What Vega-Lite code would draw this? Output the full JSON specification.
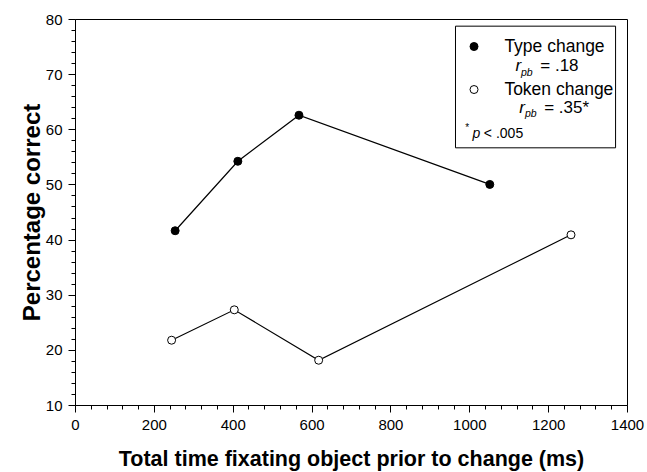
{
  "$schema": "https://vega.github.io/schema/vega-lite/v6.json",
  "width": 552,
  "height": 386,
  "autosize": {"type": "none"},
  "padding": {"left": 75, "top": 19, "right": 20, "bottom": 67},
  "background": "white",
  "datasets": {
    "points": [
      {"series": "Type change", "time": 254, "pct": 41.6},
      {"series": "Type change", "time": 413, "pct": 54.2},
      {"series": "Type change", "time": 568, "pct": 62.55},
      {"series": "Type change", "time": 1052, "pct": 50.0},
      {"series": "Token change", "time": 245, "pct": 21.75},
      {"series": "Token change", "time": 404, "pct": 27.26},
      {"series": "Token change", "time": 618, "pct": 18.12},
      {"series": "Token change", "time": 1258, "pct": 40.86}
    ]
  },
  "config": {
    "view": {"stroke": "black", "strokeWidth": 1},
    "axis": {
      "grid": false,
      "labelFont": "Liberation Sans",
      "titleFont": "Liberation Sans",
      "labelColor": "black",
      "titleColor": "black",
      "tickColor": "black",
      "domainColor": "black",
      "labelFlush": false,
      "labelOverlap": false
    }
  },
  "layer": [
    {
      "data": {"name": "points"},
      "mark": {"type": "line", "color": "black", "strokeWidth": 1.2},
      "encoding": {
        "x": {
          "field": "time", "type": "quantitative",
          "scale": {"domain": [0, 1400], "nice": false, "zero": false},
          "axis": {
            "orient": "bottom", "format": "d",
            "values": [0, 200, 400, 600, 800, 1000, 1200, 1400],
            "tickSize": 7, "labelPadding": 5, "labelFontSize": 15,
            "title": "Total time fixating object prior to change (ms)",
            "titleFontSize": 21.5, "titleFontWeight": "bold", "titlePadding": 16
          }
        },
        "y": {
          "field": "pct", "type": "quantitative",
          "scale": {"domain": [10, 80], "nice": false, "zero": false},
          "axis": {
            "orient": "left", "format": "d",
            "values": [10, 20, 30, 40, 50, 60, 70, 80],
            "tickSize": 7, "labelPadding": 6, "labelFontSize": 15,
            "title": "Percentage correct",
            "titleFontSize": 24, "titleFontWeight": "bold", "titlePadding": 1
          }
        },
        "detail": {"field": "series"}
      }
    },
    {
      "data": {"name": "points"},
      "mark": {"type": "point", "shape": "circle", "filled": true, "size": 64, "stroke": "black", "strokeWidth": 1, "opacity": 1},
      "encoding": {
        "x": {
          "field": "time", "type": "quantitative",
          "axis": {
            "orient": "bottom", "labels": false, "domain": false, "title": null, "tickSize": 4,
            "values": [40, 80, 120, 160, 240, 280, 320, 360, 440, 480, 520, 560, 640, 680, 720, 760, 840, 880, 920, 960, 1040, 1080, 1120, 1160, 1240, 1280, 1320, 1360]
          }
        },
        "y": {
          "field": "pct", "type": "quantitative",
          "axis": {
            "orient": "left", "labels": false, "domain": false, "title": null, "tickSize": 4,
            "values": [12, 14, 16, 18, 22, 24, 26, 28, 32, 34, 36, 38, 42, 44, 46, 48, 52, 54, 56, 58, 62, 64, 66, 68, 72, 74, 76, 78]
          }
        },
        "fill": {
          "field": "series", "type": "nominal",
          "scale": {"domain": ["Type change", "Token change"], "range": ["black", "white"]},
          "legend": null
        }
      }
    },
    {
      "data": {"values": [{}]},
      "mark": {"type": "rect", "fill": "white", "stroke": "black", "strokeWidth": 1},
      "encoding": {
        "x": {"datum": 965, "type": "quantitative", "axis": null},
        "x2": {"datum": 1371},
        "y": {"datum": 78.7, "type": "quantitative", "axis": null},
        "y2": {"datum": 56.64}
      }
    },
    {
      "data": {"values": [{}]},
      "mark": {"type": "point", "shape": "circle", "filled": true, "size": 64, "fill": "black", "stroke": "black", "strokeWidth": 1, "opacity": 1},
      "encoding": {
        "x": {"datum": 1012, "type": "quantitative", "axis": null},
        "y": {"datum": 75.01, "type": "quantitative", "axis": null}
      }
    },
    {
      "data": {"values": [{}]},
      "mark": {"type": "point", "shape": "circle", "filled": true, "size": 64, "fill": "white", "stroke": "black", "strokeWidth": 1, "opacity": 1},
      "encoding": {
        "x": {"datum": 1012, "type": "quantitative", "axis": null},
        "y": {"datum": 67.21, "type": "quantitative", "axis": null}
      }
    },
    {
      "data": {"values": [{}]},
      "mark": {"type": "text", "text": "Type change", "font": "Liberation Sans", "fontSize": 17.5, "align": "left", "baseline": "middle", "color": "black"},
      "encoding": {
        "x": {"datum": 1089, "type": "quantitative", "axis": null},
        "y": {"datum": 75.01, "type": "quantitative", "axis": null}
      }
    },
    {
      "data": {"values": [{}]},
      "mark": {"type": "text", "text": "r", "font": "Liberation Sans", "fontStyle": "italic", "fontSize": 17, "align": "left", "baseline": "alphabetic", "color": "black"},
      "encoding": {
        "x": {"datum": 1117, "type": "quantitative", "axis": null},
        "y": {"datum": 70.53, "type": "quantitative", "axis": null}
      }
    },
    {
      "data": {"values": [{}]},
      "mark": {"type": "text", "text": "pb", "font": "Liberation Sans", "fontStyle": "italic", "fontSize": 10.5, "align": "left", "baseline": "alphabetic", "color": "black"},
      "encoding": {
        "x": {"datum": 1131, "type": "quantitative", "axis": null},
        "y": {"datum": 69.75, "type": "quantitative", "axis": null}
      }
    },
    {
      "data": {"values": [{}]},
      "mark": {"type": "text", "text": "= .18", "font": "Liberation Sans", "fontSize": 17, "align": "left", "baseline": "alphabetic", "color": "black"},
      "encoding": {
        "x": {"datum": 1180, "type": "quantitative", "axis": null},
        "y": {"datum": 70.53, "type": "quantitative", "axis": null}
      }
    },
    {
      "data": {"values": [{}]},
      "mark": {"type": "text", "text": "Token change", "font": "Liberation Sans", "fontSize": 17.5, "align": "left", "baseline": "middle", "color": "black"},
      "encoding": {
        "x": {"datum": 1089, "type": "quantitative", "axis": null},
        "y": {"datum": 67.21, "type": "quantitative", "axis": null}
      }
    },
    {
      "data": {"values": [{}]},
      "mark": {"type": "text", "text": "r", "font": "Liberation Sans", "fontStyle": "italic", "fontSize": 17, "align": "left", "baseline": "alphabetic", "color": "black"},
      "encoding": {
        "x": {"datum": 1127, "type": "quantitative", "axis": null},
        "y": {"datum": 63.04, "type": "quantitative", "axis": null}
      }
    },
    {
      "data": {"values": [{}]},
      "mark": {"type": "text", "text": "pb", "font": "Liberation Sans", "fontStyle": "italic", "fontSize": 10.5, "align": "left", "baseline": "alphabetic", "color": "black"},
      "encoding": {
        "x": {"datum": 1141, "type": "quantitative", "axis": null},
        "y": {"datum": 62.23, "type": "quantitative", "axis": null}
      }
    },
    {
      "data": {"values": [{}]},
      "mark": {"type": "text", "text": "= .35*", "font": "Liberation Sans", "fontSize": 17, "align": "left", "baseline": "alphabetic", "color": "black"},
      "encoding": {
        "x": {"datum": 1190, "type": "quantitative", "axis": null},
        "y": {"datum": 63.04, "type": "quantitative", "axis": null}
      }
    },
    {
      "data": {"values": [{}]},
      "mark": {"type": "text", "text": "*", "font": "Liberation Sans", "fontSize": 10, "align": "left", "baseline": "alphabetic", "color": "black"},
      "encoding": {
        "x": {"datum": 990, "type": "quantitative", "axis": null},
        "y": {"datum": 59.6, "type": "quantitative", "axis": null}
      }
    },
    {
      "data": {"values": [{}]},
      "mark": {"type": "text", "text": "p", "font": "Liberation Sans", "fontStyle": "italic", "fontSize": 14, "align": "left", "baseline": "alphabetic", "color": "black"},
      "encoding": {
        "x": {"datum": 1008, "type": "quantitative", "axis": null},
        "y": {"datum": 58.45, "type": "quantitative", "axis": null}
      }
    },
    {
      "data": {"values": [{}]},
      "mark": {"type": "text", "text": "< .005", "font": "Liberation Sans", "fontSize": 14, "align": "left", "baseline": "alphabetic", "color": "black"},
      "encoding": {
        "x": {"datum": 1037, "type": "quantitative", "axis": null},
        "y": {"datum": 58.45, "type": "quantitative", "axis": null}
      }
    }
  ],
  "resolve": {"axis": {"x": "independent", "y": "independent"}}
}
